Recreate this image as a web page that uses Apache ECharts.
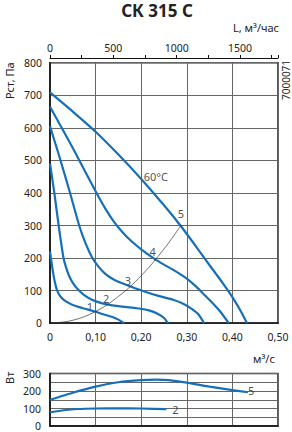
<!DOCTYPE html>
<html>
<head>
<meta charset="utf-8">
<script src="https://cdn.jsdelivr.net/npm/echarts@6/dist/echarts.min.js"></script>
<style>
  html, body { margin: 0; padding: 0; background: #fff; }
  #chart { width: 292px; height: 432px; }
</style>
</head>
<body>
<div id="chart"></div>
<script>
// pressure curves, [m3/s, Pa]
const curve1 = [[0,220],[0.002,200],[0.007,153],[0.011,124],[0.015,103],[0.02,88],[0.026,77],[0.035,67],[0.05,56],[0.075,45],[0.1,35],[0.12,26],[0.137,19],[0.15,11],[0.163,0]];
const curve2 = [[0,490],[0.0095,400],[0.019,300],[0.029,205],[0.035,172],[0.042,145],[0.05,124],[0.061,104],[0.075,86],[0.093,71],[0.115,61],[0.137,55],[0.165,50],[0.19,46],[0.215,40],[0.235,30],[0.25,16],[0.259,0]];
const curve3 = [[0,605],[0.022,505],[0.044,400],[0.064,300],[0.078,245],[0.093,200],[0.105,176],[0.12,153],[0.135,138],[0.15,127],[0.178,112],[0.21,96],[0.24,83],[0.27,72],[0.292,60],[0.31,45],[0.325,28],[0.338,0]];
const curve4 = [[0,665],[0.05,538],[0.1,405],[0.12,355],[0.14,312],[0.16,278],[0.18,250],[0.2,227],[0.23,197],[0.25,180],[0.275,160],[0.3,137],[0.32,113],[0.34,85],[0.36,57],[0.375,33],[0.392,0]];
const curve5 = [[0,709],[0.05,650],[0.1,588],[0.15,518],[0.2,443],[0.25,362],[0.286,300],[0.32,236],[0.35,178],[0.38,121],[0.4,80],[0.42,33],[0.432,0]];
const systemLine = [[0,0],[0.05,9],[0.1,36],[0.15,82],[0.2,146],[0.25,228],[0.288,302]];

const curveLabels = ['1', '2', '3', '4', '5', '60°C'];
const curveLabelX = [0.0875, 0.123, 0.171, 0.225, 0.287, 0.232];
const curveLabelY = [52, 77, 132, 221, 338, 449];

// power curves, [m3/s, W]
const power5 = [[0,150],[0.05,190],[0.1,225],[0.15,250],[0.2,262],[0.233,265],[0.26,262],[0.3,248],[0.35,225],[0.4,205],[0.434,193]];
const power2 = [[0,78],[0.03,90],[0.06,97],[0.1,100],[0.15,101],[0.2,100],[0.255,96]];
const powerLabels = ['5', '2'];
const powerLabelX = [0.441, 0.275];
const powerLabelY = [205, 95];

const FONT = 'Noto Sans';
const BLUE = '#1570b8';
const GRIDC = '#666';

const chart = echarts.init(document.getElementById('chart'), null, { renderer: 'svg' });

function curve(data, xi, yi) {
  return {
    type: 'line', data: data, xAxisIndex: xi, yAxisIndex: yi,
    smooth: 0.2, symbol: 'none', silent: true,
    lineStyle: { color: BLUE, width: 2.2 }
  };
}

function labels(names, xs, ys, xi, yi) {
  return {
    type: 'scatter', xAxisIndex: xi, yAxisIndex: yi, symbolSize: 0, silent: true,
    data: names.map((n, i) => ({ name: n, value: [xs[i], ys[i]] })),
    label: {
      show: true, position: 'inside', formatter: '{b}',
      fontFamily: FONT, fontSize: 11, color: '#222'
    }
  };
}

const option = {
  animation: false,
  textStyle: { fontFamily: FONT },
  grid: [
    { left: 50, top: 62.7, width: 228, height: 260.5, show: true, borderColor: '#222', borderWidth: 1.5 },
    { left: 50, top: 373.5, width: 228, height: 52.5, show: true, borderColor: '#222', borderWidth: 1.5 }
  ],
  xAxis: [
    {
      gridIndex: 0, type: 'value', min: 0, max: 0.5, interval: 0.1,
      axisLine: { lineStyle: { color: '#111', width: 1.5 } },
      axisTick: { show: false },
      splitLine: { lineStyle: { color: GRIDC, width: 1 } },
      axisLabel: {
        margin: 8, fontSize: 10.5, color: '#222', fontFamily: FONT,
        formatter: v => v === 0 ? '0' : v.toFixed(2).replace('.', ',')
      }
    },
    {
      gridIndex: 0, type: 'value', position: 'top', offset: 4.7,
      min: 0, max: 1800, interval: 250,
      axisLine: { show: true, lineStyle: { color: '#111', width: 1 } },
      axisTick: { show: true, length: 3, lineStyle: { color: '#111' } },
      splitLine: { show: false },
      axisLabel: {
        margin: 5, fontSize: 10.5, color: '#222', fontFamily: FONT,
        formatter: v => v % 500 === 0 ? String(v) : ''
      }
    },
    {
      gridIndex: 1, type: 'value', min: 0, max: 0.5, interval: 0.1,
      axisLine: { lineStyle: { color: '#111', width: 1.5 } },
      axisTick: { show: false },
      axisLabel: { show: false },
      splitLine: { lineStyle: { color: GRIDC, width: 1 } }
    }
  ],
  yAxis: [
    {
      gridIndex: 0, type: 'value', min: 0, max: 800, interval: 100,
      axisLine: { show: true, lineStyle: { color: '#111', width: 1.5 } },
      axisTick: { show: false },
      splitLine: { lineStyle: { color: GRIDC, width: 1 } },
      axisLabel: { margin: 8, fontSize: 10.5, color: '#222', fontFamily: FONT }
    },
    {
      gridIndex: 1, type: 'value', min: 0, max: 300, interval: 50,
      axisLine: { show: true, lineStyle: { color: '#111', width: 1.5 } },
      axisTick: { show: false },
      splitLine: { lineStyle: { color: GRIDC, width: 1 } },
      axisLabel: {
        margin: 9, fontSize: 10.5, color: '#222', fontFamily: FONT,
        formatter: v => v % 100 === 0 ? String(v) : ''
      }
    }
  ],
  series: [
    curve(curve1, 0, 0),
    curve(curve2, 0, 0),
    curve(curve3, 0, 0),
    curve(curve4, 0, 0),
    curve(curve5, 0, 0),
    {
      type: 'line', data: systemLine, xAxisIndex: 0, yAxisIndex: 0,
      smooth: 0.4, symbol: 'none', silent: true, z: 3,
      lineStyle: { color: '#333', width: 0.7 }
    },
    labels(curveLabels, curveLabelX, curveLabelY, 0, 0),
    curve(power5, 2, 1),
    curve(power2, 2, 1),
    labels(powerLabels, powerLabelX, powerLabelY, 2, 1)
  ],
  graphic: [
    {
      type: 'text', x: 157, y: 2,
      style: { text: 'СК 315 С', font: 'bold 17px "Noto Sans"', fill: '#222', align: 'center' }
    },
    {
      type: 'text', right: 13, top: 22,
      style: { text: 'L, м³/час', font: '11px "Noto Sans"', fill: '#222' }
    },
    {
      type: 'text', x: 4, y: 99, rotation: Math.PI / 2,
      style: { text: 'Рст, Па', font: '11px "Noto Sans"', fill: '#222' }
    },
    {
      type: 'text', x: 281, y: 100, rotation: Math.PI / 2,
      style: { text: '7000071', font: '10px "Noto Sans"', fill: '#222' }
    },
    {
      type: 'text', x: 253, y: 353,
      style: { text: 'м³/с', font: '11px "Noto Sans"', fill: '#222' }
    },
    {
      type: 'text', x: 4, y: 384, rotation: Math.PI / 2,
      style: { text: 'Вт', font: '11px "Noto Sans"', fill: '#222' }
    }
  ]
};

chart.setOption(option);
</script>
</body>
</html>
